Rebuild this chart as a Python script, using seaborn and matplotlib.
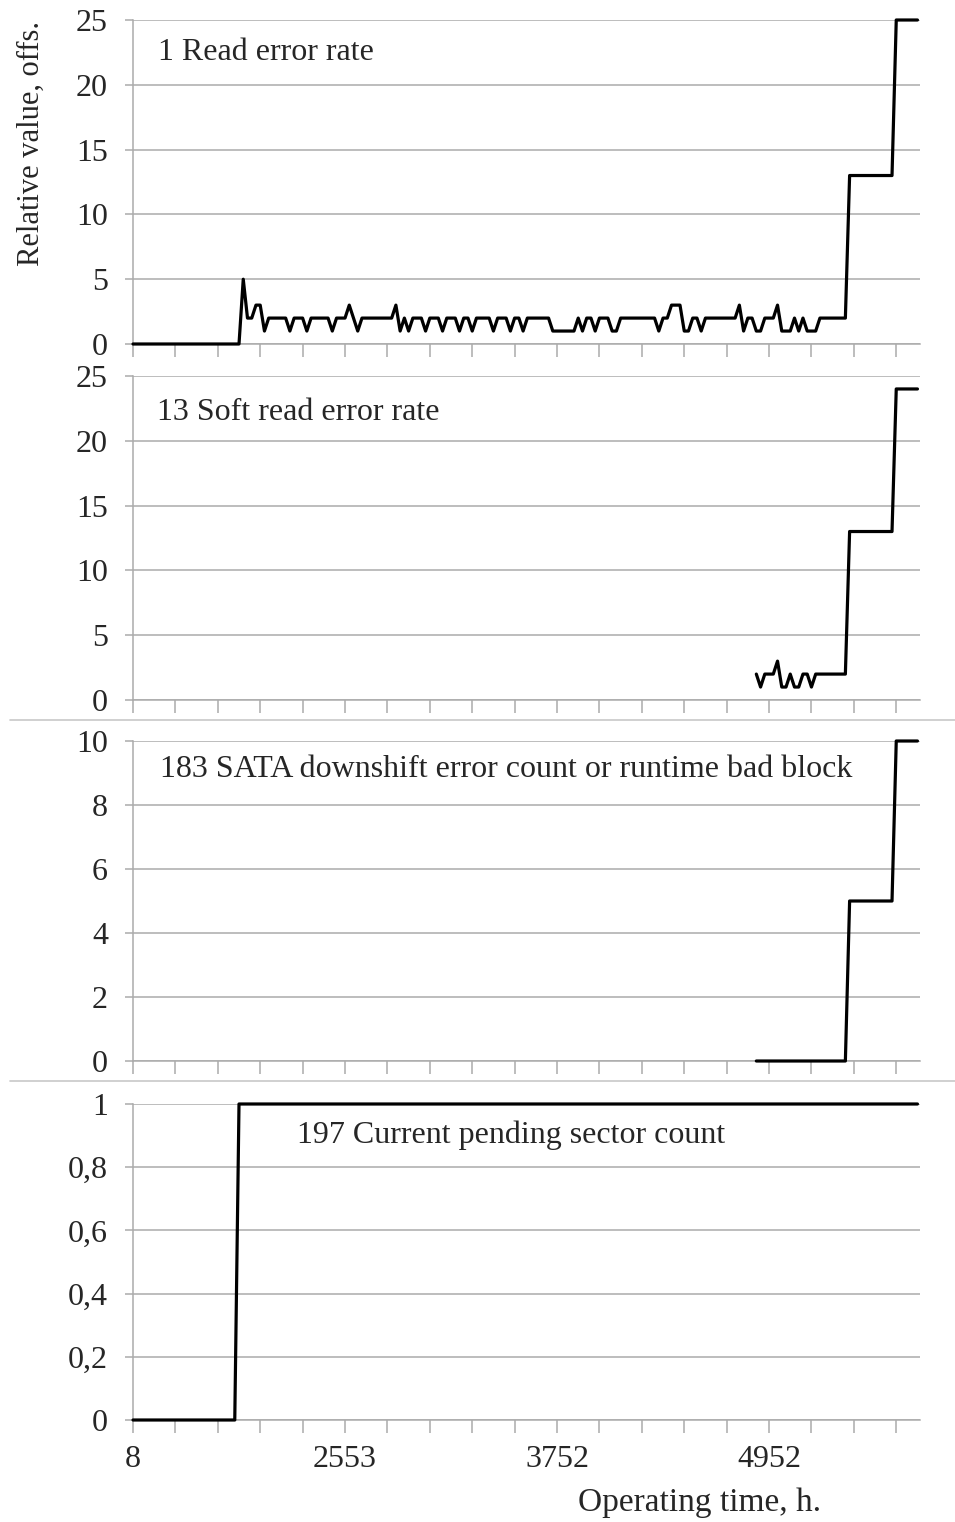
import numpy as np
import pandas as pd
import seaborn as sns
import matplotlib.pyplot as plt
from matplotlib.lines import Line2D

# category positions (one step per reading), labels shown every 50 readings
x_tick_pos = [0, 50, 100, 150]
x_tick_labels = ["8", "2553", "3752", "4952"]

# 1 Read error rate (readings 0..185)
read_err = ([0] * 26 +
            [5, 2, 2, 3, 3, 1, 2, 2, 2, 2, 2, 1, 2, 2, 2, 1, 2, 2, 2, 2,
             2, 1, 2, 2, 2, 3, 2, 1, 2, 2, 2, 2, 2, 2, 2, 2, 3, 1, 2, 1,
             2, 2, 2, 1, 2, 2, 2, 1, 2, 2, 2, 1, 2, 2, 1, 2, 2, 2, 2, 1,
             2, 2, 2, 1, 2, 2, 1, 2, 2, 2, 2, 2, 2, 1, 1, 1, 1, 1, 1, 2,
             1, 2, 2, 1, 2, 2, 2, 1, 1, 2, 2, 2, 2, 2, 2, 2, 2, 2, 1, 2,
             2, 3, 3, 3, 1, 1, 2, 2, 1, 2, 2, 2, 2, 2, 2, 2, 2, 3, 1, 2,
             2, 1, 1, 2, 2, 2, 3, 1, 1, 1, 2, 1, 2, 1, 1, 1, 2, 2, 2, 2,
             2, 2, 2] +
            [13] * 11 + [25] * 6)

# 13 Soft read error rate (readings 147..185)
soft_start = 147
soft_err = ([2, 1, 2, 2, 2, 3, 1, 1, 2, 1, 1, 2, 2, 1, 2, 2, 2, 2, 2, 2, 2, 2] +
            [13] * 11 + [24] * 6)

# 183 SATA downshift error count (readings 147..185)
sata_start = 147
sata_err = [0] * 22 + [5] * 11 + [10] * 6

# 197 Current pending sector count (readings 0..185)
pending = [0] * 25 + [1] * 161

panels = [
    dict(x0=0, vals=read_err, ticks=[0, 5, 10, 15, 20, 25], tlabels=None,
         ylim=25, title="1 Read error rate", tx=158, ty=52,
         box=(20, 344)),
    dict(x0=soft_start, vals=soft_err, ticks=[0, 5, 10, 15, 20, 25], tlabels=None,
         ylim=25, title="13 Soft read error rate", tx=157, ty=412,
         box=(376, 700)),
    dict(x0=sata_start, vals=sata_err, ticks=[0, 2, 4, 6, 8, 10], tlabels=None,
         ylim=10, title="183 SATA downshift error count or runtime bad block",
         tx=160, ty=769, box=(741, 1061)),
    dict(x0=0, vals=pending, ticks=[0, 0.2, 0.4, 0.6, 0.8, 1.0],
         tlabels=["0", "0,2", "0,4", "0,6", "0,8", "1"],
         ylim=1, title="197 Current pending sector count", tx=297, ty=1135,
         box=(1104, 1420)),
]

W, H = 955, 1522
sns.set_style("white")
plt.rcParams["font.family"] = ["Liberation Serif", "DejaVu Serif"]

fig = plt.figure(figsize=(W / 100, H / 100), dpi=100)
GRID = "#ababab"
FS = 23
x_left, x_right = 133, 920

for i, p in enumerate(panels):
    top, bot = p["box"]
    ax = fig.add_axes([x_left / W, 1 - bot / H, (x_right - x_left) / W, (bot - top) / H])
    df = pd.DataFrame({"reading": np.arange(p["x0"], p["x0"] + len(p["vals"])),
                       "value": p["vals"]})
    sns.lineplot(data=df, x="reading", y="value", ax=ax, color="black",
                 linewidth=2.3, zorder=5, clip_on=False)
    ax.set_xlim(0, 185.6)
    ax.set_ylim(0, p["ylim"])
    ax.set_yticks(p["ticks"])
    if p["tlabels"]:
        ax.set_yticklabels(p["tlabels"])
    ax.set_xticks(np.arange(0, 181, 10))
    ax.set_xticklabels([])
    ax.grid(axis="y", color=GRID, linewidth=1.1)
    ax.set_axisbelow(True)
    for s in ["top", "right"]:
        ax.spines[s].set_visible(False)
    for s in ["left", "bottom"]:
        ax.spines[s].set_color(GRID)
        ax.spines[s].set_linewidth(1.1)
    ax.tick_params(axis="y", left=True, length=6, width=1.1, color=GRID, pad=12,
                   labelsize=FS, direction="out")
    ax.tick_params(axis="x", bottom=True, length=9, width=1.1, color=GRID, pad=9,
                   labelsize=FS, direction="out")
    ax.set_xlabel("")
    ax.set_ylabel("")
    ax.text(p["tx"] / W, 1 - p["ty"] / H, p["title"], transform=fig.transFigure,
            fontsize=FS, va="center", ha="left")
    if i == len(panels) - 1:
        labels = []
        for t in np.arange(0, 181, 10):
            labels.append(x_tick_labels[x_tick_pos.index(t)] if t in x_tick_pos else "")
        ax.set_xticklabels(labels)

# separators between panel groups
for yy in [720, 1081]:
    fig.add_artist(Line2D([10 / W, 1], [1 - yy / H, 1 - yy / H],
                          color="#c8c8c8", linewidth=1.2))

fig.text(31 / W, 1 - 143 / H, "Relative value, offs.", rotation=90,
         fontsize=22, ha="center", va="center")
fig.text(700 / W, 1 - 1503 / H, "Operating time, h.", fontsize=24,
         ha="center", va="center")

fig.savefig("out.png", dpi=100)
